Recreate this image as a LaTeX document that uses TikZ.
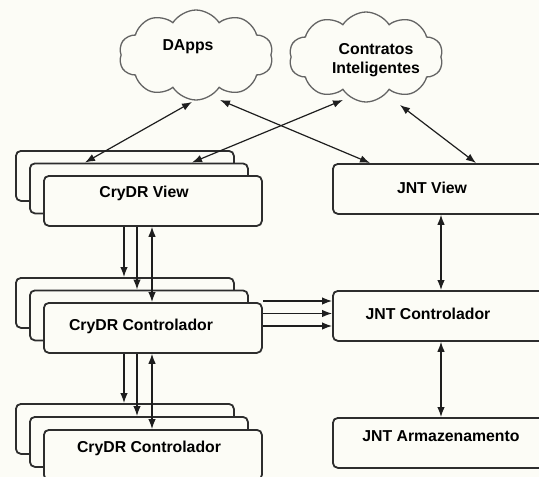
\documentclass[tikz,border=0pt]{standalone}
\usepackage{fontspec}
\setmainfont{Liberation Sans}
\usetikzlibrary{shapes.symbols,arrows.meta,calc}
\definecolor{bgc}{RGB}{252,252,246}
\definecolor{boxline}{RGB}{45,45,45}
\definecolor{cloudline}{RGB}{100,100,100}
\definecolor{arrline}{RGB}{30,30,30}
\begin{document}
\begin{tikzpicture}[x=1pt,y=-1pt,
  >={Latex[length=10pt,width=7.5pt]},
  lbl/.style={font=\fontsize{15.8}{19}\selectfont\bfseries, text=black, align=center},
  cbox/.style={draw=boxline, line width=1.8pt, rounded corners=5pt, fill=bgc,
    minimum width=218pt, minimum height=50pt, inner sep=0pt, anchor=north west},
  jbox/.style={draw=boxline, line width=1.8pt, rounded corners=5pt, fill=bgc,
    minimum width=216pt, minimum height=50pt, inner sep=0pt, anchor=north west},
  cloudnode/.style={cloud, cloud puffs=10, cloud puff arc=115, aspect=1.75,
    draw=cloudline, line width=1.3pt, fill=bgc, minimum width=154pt, minimum height=90pt, inner sep=0pt},
  conn/.style={draw=arrline, line width=1.2pt}
]
\useasboundingbox (0,0) rectangle (539,477);
\clip (0,0) rectangle (539,477);
\fill[bgc] (0,0) rectangle (539,477);

% clouds
\node[cloudnode] (dapps) at (196,55) {};
\node[cloudnode] (contr) at (366,57) {};
\node[lbl] (dappst) at (188,47) {DApps};
\node[lbl] (contrt) at (376,60) {Contratos\\Inteligentes};

% CryDR View stack
\node[cbox] (b1) at (15,150) {};
\node[cbox] (m1) at (29,162.5) {};
\node[cbox] (f1) at (43,175) {};
\node[lbl] (f1t) at (144,193) {CryDR View};

% CryDR Controlador stack
\node[cbox] (b2) at (15,277) {};
\node[cbox] (m2) at (29,289.5) {};
\node[cbox] (f2) at (43,302) {};
\node[lbl] (f2t) at (141,326) {CryDR Controlador};

% CryDR Controlador stack (bottom)
\node[cbox] (b3) at (15,403) {};
\node[cbox] (m3) at (29,416) {};
\node[cbox] (f3) at (43,429) {};
\node[lbl] (f3t) at (149,448) {CryDR Controlador};

% JNT boxes
\node[jbox] (jview) at (332,163) {};
\node[lbl] (jviewt) at (432,188) {JNT View};
\node[jbox] (jctrl) at (332,290) {};
\node[lbl] (jctrlt) at (428,314) {JNT Controlador};
\node[jbox] (jarm) at (332,417) {};
\node[lbl] (jarmt) at (441,436) {JNT Armazenamento};

% helper coordinates
\coordinate (d1) at (192,102);
\coordinate (d2) at (220,100);
\coordinate (c1) at (343,100);
\coordinate (c2) at (400,105);
\coordinate (xa) at (85,0);
\coordinate (xb) at (192,0);
\coordinate (xc) at (370,0);
\coordinate (xd) at (476,0);
\coordinate (v1) at (124,0);
\coordinate (v2) at (137,0);
\coordinate (v3) at (152,0);
\coordinate (jx) at (441,0);
\coordinate (h1) at (0,301);
\coordinate (h2) at (0,313.5);
\coordinate (h3) at (0,326);

% cloud connectors
\draw[conn,<->] (d1) -- (m1.north -| xa);
\draw[conn,<->] (d2) -- (jview.north -| xc);
\draw[conn,<->] (c1) -- (m1.north -| xb);
\draw[conn,<->] (c2) -- (jview.north -| xd);

% vertical CryDR connectors
\draw[conn,->] (f1.south -| v1) -- (b2.north -| v1);
\draw[conn,->] (f1.south -| v2) -- (m2.north -| v2);
\draw[conn,<->] (f1.south -| v3) -- (f2.north -| v3);
\draw[conn,->] (f2.south -| v1) -- (b3.north -| v1);
\draw[conn,->] (f2.south -| v2) -- (m3.north -| v2);
\draw[conn,<->] (f2.south -| v3) -- (f3.north -| v3);

% horizontal connectors
\draw[conn,->] (f2.east |- h1) -- (jctrl.west |- h1);
\draw[conn,->] (f2.east |- h2) -- (jctrl.west |- h2);
\draw[conn,->] (f2.east |- h3) -- (jctrl.west |- h3);

% JNT connectors
\draw[conn,<->] (jview.south -| jx) -- (jctrl.north -| jx);
\draw[conn,<->] (jctrl.south -| jx) -- (jarm.north -| jx);
\end{tikzpicture}
\end{document}
